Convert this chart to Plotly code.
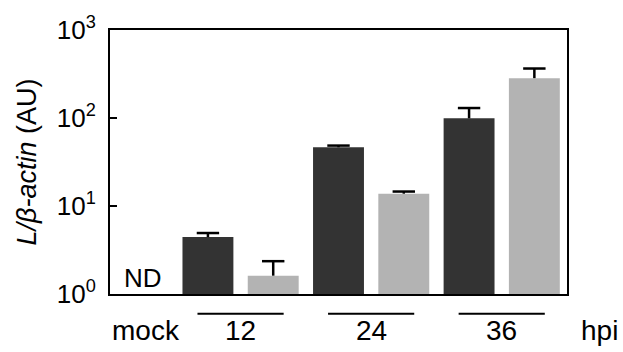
import plotly.graph_objects as go

# ---- data ----
slots = ["mock", "12 A", "12 B", "24 A", "24 B", "36 A", "36 B"]
groups = ["12", "24", "36"]
series_a_x = ["12 A", "24 A", "36 A"]
series_a_vals = [4.43, 46.5, 99.1]
series_a_err = [0.50, 2.1, 30.7]
series_b_x = ["12 B", "24 B", "36 B"]
series_b_vals = [1.615, 13.8, 283.6]
series_b_err = [0.745, 0.8, 81.4]
ytick_vals = [1, 10, 100, 1000]
ytick_text = ["10<sup>0</sup>", "10<sup>1</sup>", "10<sup>2</sup>", "10<sup>3</sup>"]

FONT = "Liberation Sans, Arial, sans-serif"
DARK = "#333333"
LIGHT = "#b3b3b3"

fig = go.Figure()
for xs, vals, errs, col in [(series_a_x, series_a_vals, series_a_err, DARK),
                            (series_b_x, series_b_vals, series_b_err, LIGHT)]:
    fig.add_trace(go.Bar(
        x=xs, y=vals, marker=dict(color=col, line=dict(width=0)),
        error_y=dict(type="data", symmetric=False, array=errs,
                     arrayminus=[0] * len(errs), color="black", thickness=2.5, width=0),
        showlegend=False, hoverinfo="skip"))
    # caps of the upward-only error bars
    fig.add_trace(go.Scatter(
        x=xs, y=[v + e for v, e in zip(vals, errs)], mode="markers",
        marker=dict(symbol="line-ew", size=16, line=dict(color="black", width=2.5)),
        showlegend=False, hoverinfo="skip", cliponaxis=False))

fig.update_layout(
    width=623, height=352,
    margin=dict(l=110, r=56, t=20, b=58),
    paper_bgcolor="white", plot_bgcolor="white",
    barmode="overlay", bargap=0.22,
    font=dict(family=FONT, size=26, color="black"),
)
fig.update_xaxes(
    type="category", categoryorder="array", categoryarray=slots,
    range=[-0.5, len(slots) - 0.5],
    showticklabels=False, ticks="", showgrid=False, zeroline=False,
    showline=True, linecolor="black", linewidth=2, mirror=True,
)
fig.update_yaxes(
    type="log", range=[0, 3],
    tickvals=ytick_vals, ticktext=ytick_text,
    ticks="inside", ticklen=7, tickwidth=2, tickcolor="black",
    ticklabelstandoff=7,
    tickfont=dict(family=FONT, size=26),
    showgrid=False, zeroline=False,
    showline=True, linecolor="black", linewidth=2, mirror=True,
    title=dict(text="<i>L/β-actin</i> (AU)", font=dict(family=FONT, size=27), standoff=12),
)

# ND label for mock
fig.add_annotation(x=slots.index("mock"), y=0.06, xref="x", yref="paper",
                   text="ND", showarrow=False, xanchor="center", yanchor="middle",
                   font=dict(family=FONT, size=26))
# x labels
fig.add_annotation(x=slots.index("mock") + 0.05, y=-0.14, xref="x", yref="paper",
                   text="mock", showarrow=False, xanchor="center", yanchor="middle",
                   font=dict(family=FONT, size=28))
for g in groups:
    c = (slots.index(g + " A") + slots.index(g + " B")) / 2
    fig.add_annotation(x=c, y=-0.14, xref="x", yref="paper", text=g,
                       showarrow=False, xanchor="center", yanchor="middle",
                       font=dict(family=FONT, size=28))
    fig.add_shape(type="line", xref="x", yref="paper", x0=c - 0.66, x1=c + 0.66,
                  y0=-0.075, y1=-0.075, line=dict(color="black", width=2))
# "hpi" sits one slot to the right of the last bar
hpi_x = (len(slots) + 0.5) / len(slots)
fig.add_annotation(x=hpi_x, y=-0.14, xref="paper", yref="paper", text="hpi",
                   showarrow=False, xanchor="center", yanchor="middle",
                   font=dict(family=FONT, size=28))

fig.write_html("out.html")
